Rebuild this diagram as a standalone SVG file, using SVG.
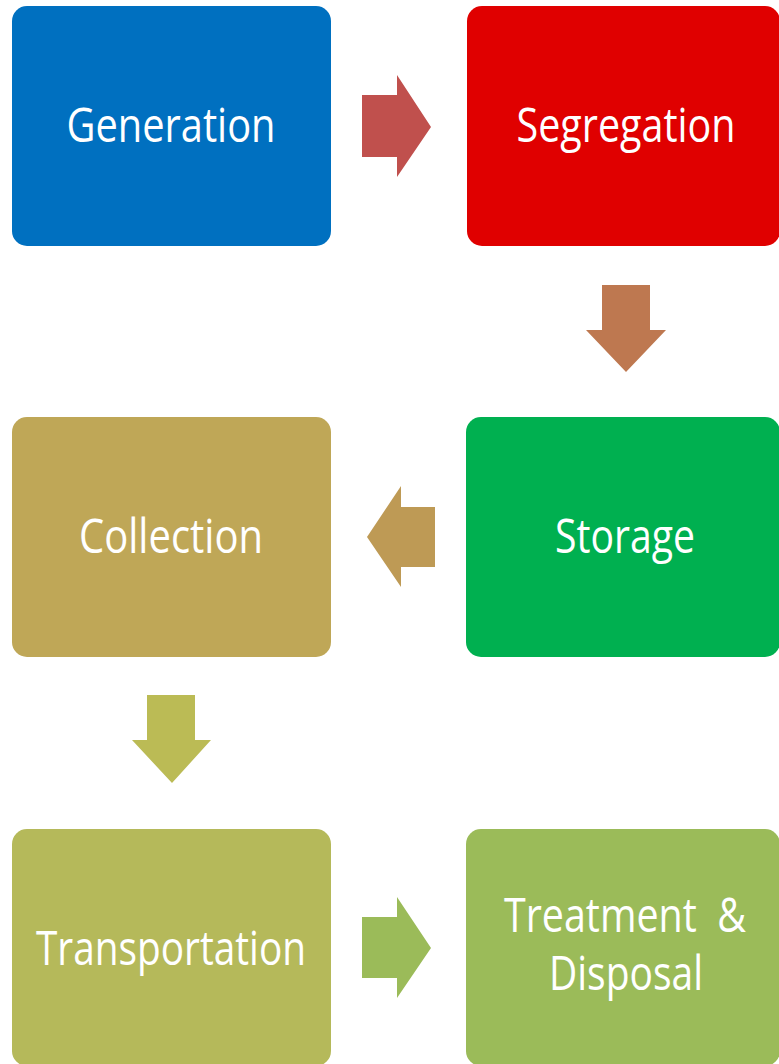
<svg xmlns="http://www.w3.org/2000/svg" width="779" height="1064" viewBox="0 0 779 1064">
<style>
.lbl{font-family:"Open Sans","Liberation Sans",sans-serif;font-size:47px;fill:#FFFFFF;text-anchor:middle}
</style>
<rect width="779" height="1064" fill="#FFFFFF"/>
<g id="connectors">
<polygon points="362,95 397,95 397,75 431,127 397,177 397,157 362,157" fill="#C0504D"/>
<polygon points="602,285 650,285 650,330 666,330 626,372 586,330 602,330" fill="#BE7850"/>
<polygon points="435,507 401,507 401,486 367,537 401,587 401,567 435,567" fill="#BE9A55"/>
<polygon points="147,695 195,695 195,740 211,740 172,783 132,740 147,740" fill="#BBBB55"/>
<polygon points="362,917 397,917 397,897 431,948 397,998 397,978 362,978" fill="#9BBB59"/>
</g>
<g id="generation">
<rect x="12" y="6" width="319" height="240" rx="15" fill="#0070C0"/>
<text class="lbl" x="171" y="142" textLength="209" lengthAdjust="spacingAndGlyphs">Generation</text>
</g>
<g id="segregation">
<rect x="467" y="6" width="313" height="240" rx="15" fill="#E00000"/>
<text class="lbl" x="626" y="142" textLength="219" lengthAdjust="spacingAndGlyphs">Segregation</text>
</g>
<g id="storage">
<rect x="466" y="417" width="314" height="240" rx="15" fill="#00B050"/>
<text class="lbl" x="625" y="553" textLength="140" lengthAdjust="spacingAndGlyphs">Storage</text>
</g>
<g id="collection">
<rect x="12" y="417" width="319" height="240" rx="15" fill="#BFA757"/>
<text class="lbl" x="171" y="553" textLength="184" lengthAdjust="spacingAndGlyphs">Collection</text>
</g>
<g id="transportation">
<rect x="12" y="829" width="319" height="237" rx="15" fill="#B5B95A"/>
<text class="lbl" x="171" y="965" textLength="270" lengthAdjust="spacingAndGlyphs">Transportation</text>
</g>
<g id="treatment">
<rect x="466" y="829" width="314" height="237" rx="15" fill="#9BBB59"/>
<text class="lbl" xml:space="preserve"><tspan x="625" y="932" textLength="242" lengthAdjust="spacingAndGlyphs">Treatment  &amp;</tspan><tspan x="626" y="990" textLength="154" lengthAdjust="spacingAndGlyphs">Disposal</tspan></text>
</g>
</svg>
